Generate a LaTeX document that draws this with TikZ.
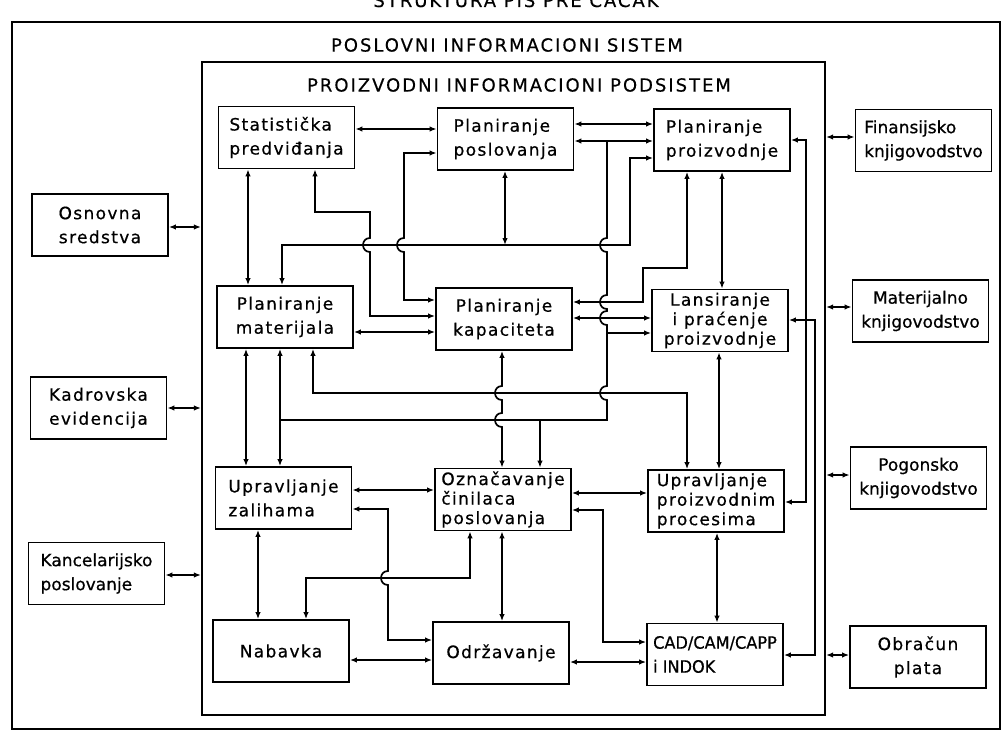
\documentclass[tikz,border=0pt]{standalone}
\usepackage{fontspec}
\usetikzlibrary{arrows.meta}
\newfontfamily\boxfont[LetterSpace=8,FakeBold=0.6]{DejaVu Sans}
\newfontfamily\tightfont[FakeBold=0.6]{DejaVu Sans}
\newfontfamily\cadfont[FakeStretch=0.95,FakeBold=0.6]{DejaVu Sans}
\newfontfamily\headfont[LetterSpace=11,FakeBold=0.4]{DejaVu Sans}

\tikzset{
  box/.style={draw, line width=1.8pt, inner sep=0pt, minimum width=136pt,
    minimum height=62pt, align=center, font=\boxfont\fontsize{17}{24}\selectfont},
  box3/.style={box, font=\boxfont\fontsize{17}{19.5}\selectfont},
  tbox/.style={box, font=\tightfont\fontsize{17}{24}\selectfont},
  frame/.style={draw, line width=2.2pt, inner sep=0pt},
  head/.style={font=\headfont\fontsize{18}{20}\selectfont, inner sep=0pt},
  con/.style={line width=1.7pt},
  dbl/.style={con, {Latex[length=7pt,width=5.5pt]}-{Latex[length=7pt,width=5.5pt]}},
  arr/.style={con, -{Latex[length=7pt,width=5.5pt]}},
  % semicircular hop of a downward vertical line over a horizontal one
  jv/.style args={#1/#2}{insert path={-- (#1,#2-7) .. controls (#1-9.3,#2-7) and (#1-9.3,#2+7) .. (#1,#2+7)}},
}

\begin{document}
\begin{tikzpicture}[x=1pt, y=-1pt]
\useasboundingbox (0,0) rectangle (1004,733);
\fill[white] (0,0) rectangle (1004,733);

% title and frames
\node[head, anchor=base] (title) at (516,7) {STRUKTURA PIS PRE ČAČAK};
\node[frame, minimum width=988pt, minimum height=707pt] (pos) at (506,375.5) {};
\node[head] (posT) at (507,45) {POSLOVNI INFORMACIONI SISTEM};
\node[frame, minimum width=623pt, minimum height=653pt] (pis) at (513.5,388.5) {};
\node[head] (pisT) at (519,85) {PROIZVODNI INFORMACIONI PODSISTEM};

% production subsystem modules
\node[box, align=left] (sp)  at (286.5,137.5) {Statistička\\predviđanja};
\node[box, align=left] (pp)  at (505.5,139)   {Planiranje\\poslovanja};
\node[box, align=left] (ppr) at (722,140)     {Planiranje\\proizvodnje};
\node[box] (pm)  at (285,317)   {Planiranje\\materijala};
\node[box] (pk)  at (504,319)   {Planiranje\\kapaciteta};
\node[box3] (lp) at (720,320.5) {Lansiranje\\i praćenje\\proizvodnje};
\node[box, align=left] (uz)  at (283.5,498)   {Upravljanje\\zalihama};
\node[box3, align=left] (oc) at (503,499.5)   {Označavanje\\činilaca\\poslovanja};
\node[box3, align=left] (upp) at (716,501)    {Upravljanje\\proizvodnim\\procesima};
\node[box] (nab) at (281,651)   {Nabavka};
\node[box, align=left] (odr) at (501,653) {Održavanje};
\node[box, align=left, font=\cadfont\fontsize{17}{24}\selectfont] (cad) at (715,654.5) {CAD/CAM/CAPP\\i INDOK};

% other business subsystems
\node[box] (os) at (100,225) {Osnovna\\sredstva};
\node[box] (ke) at (98.5,408) {Kadrovska\\evidencija};
\node[tbox, align=left] (kp) at (96.5,573.5) {Kancelarijsko\\poslovanje};
\node[tbox, align=left] (fk) at (923.5,140.5) {Finansijsko\\knjigovodstvo};
\node[tbox] (mk) at (920.5,311) {Materijalno\\knjigovodstvo};
\node[tbox] (pgk) at (918.5,478) {Pogonsko\\knjigovodstvo};
\node[box] (op) at (918,657) {Obračun\\plata};

% links to the surrounding system
\draw[dbl] (os.east |- 0,227) -- (pis.west |- 0,227);
\draw[dbl] (ke.east |- 0,408) -- (pis.west |- 0,408);
\draw[dbl] (kp.east |- 0,575) -- (pis.west |- 0,575);
\draw[dbl] (pis.east |- 0,137) -- (fk.west |- 0,137);
\draw[dbl] (pis.east |- 0,307) -- (mk.west |- 0,307);
\draw[dbl] (pis.east |- 0,475) -- (pgk.west |- 0,475);
\draw[dbl] (pis.east |- 0,655) -- (op.west |- 0,655);

% junction points on shared lines
\coordinate (busTop) at (607,141);
\coordinate (busEnd) at (280,420);
\coordinate (busLp)  at (607,333);
\coordinate (busOc)  at (540,420);
\coordinate (railPp) at (505,245);

% top row
\draw[dbl] (sp.east |- 0,129) -- (pp.west |- 0,129);
\draw[dbl] (pp.east |- 0,124) -- (ppr.west |- 0,124);
\draw[dbl] (pp.east |- 0,141) -- (ppr.west |- 0,141);
\draw[dbl] (sp.south -| 248,0) -- (pm.north -| 248,0);
\draw[dbl] (sp.south -| 315,0) -- (315,212) -- (370,212) [jv=370/245] -- (370,316) -- (pk.west |- 0,316);
\draw[dbl] (pp.south -| 505,0) -- (railPp);
\draw[dbl] (pm.north -| 282,0) -- (282,245) -- (630,245) -- (630,158) -- (ppr.west |- 0,158);
\draw[dbl] (pp.west |- 0,153) -- (404,153) [jv=404/245] -- (404,300) -- (pk.west |- 0,300);
\draw[dbl] (ppr.south -| 687,0) -- (687,268) -- (643,268) -- (643,302) -- (pk.east |- 0,302);
\draw[dbl] (ppr.south -| 722,0) -- (lp.north -| 722,0);
\draw[dbl] (ppr.east |- 0,140) -- (806,140) -- (806,502) -- (upp.east |- 0,502);

% shared vertical line down the middle
\draw[con] (busTop) [jv=607/245] [jv=607/302] [jv=607/318] [jv=607/393] -- (607,420) -- (busEnd);
\draw[arr] (busLp) -- (lp.west |- busLp);
\draw[arr] (busOc) -- (oc.north -| busOc);

% middle row
\draw[dbl] (pk.east |- 0,318) -- (lp.west |- 0,318);
\draw[dbl] (pm.east |- 0,332) -- (pk.west |- 0,332);
\draw[dbl] (pm.south -| 246,0) -- (uz.north -| 246,0);
\draw[dbl] (pm.south -| 280,0) -- (uz.north -| 280,0);
\draw[dbl] (pm.south -| 313,0) -- (313,393) -- (687,393) -- (upp.north -| 687,0);
\draw[dbl] (pk.south -| 502,0) [jv=502/393] [jv=502/420] -- (oc.north -| 502,0);
\draw[dbl] (lp.south -| 719,0) -- (upp.north -| 719,0);
\draw[dbl] (lp.east |- 0,320) -- (815,320) -- (815,655) -- (cad.east |- 0,655);

% lower rows
\draw[dbl] (uz.east |- 0,490) -- (oc.west |- 0,490);
\draw[dbl] (uz.east |- 0,509) -- (388,509) [jv=388/578] -- (388,640) -- (odr.west |- 0,640);
\draw[dbl] (uz.south -| 258,0) -- (nab.north -| 258,0);
\draw[dbl] (oc.south -| 470,0) -- (470,578) -- (306,578) -- (nab.north -| 306,0);
\draw[dbl] (oc.south -| 502,0) -- (odr.north -| 502,0);
\draw[dbl] (oc.east |- 0,493) -- (upp.west |- 0,493);
\draw[dbl] (oc.east |- 0,510) -- (603,510) -- (603,642) -- (cad.west |- 0,642);
\draw[dbl] (upp.south -| 717,0) -- (cad.north -| 717,0);
\draw[dbl] (nab.east |- 0,660) -- (odr.west |- 0,660);
\draw[dbl] (odr.east |- 0,662) -- (cad.west |- 0,662);
\end{tikzpicture}
\end{document}
